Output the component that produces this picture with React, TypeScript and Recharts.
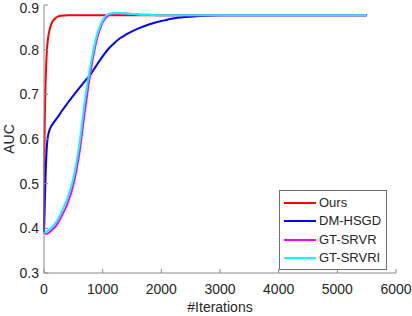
import React from 'react';
import { LineChart, Line, XAxis, YAxis, Legend, Label } from 'recharts';

// iteration grid shared by all curves
const iterations = [0, 10, 20, 30, 40, 50, 60, 80, 100, 125, 150, 200, 250, 300, 400, 500, 600, 700, 800, 900, 1000, 1100, 1200, 1300, 1400, 1500, 1600, 1800, 2000, 2200, 2400, 2600, 2800, 3000, 3500, 4000, 4500, 5000, 5500];

const ours = [0.39, 0.6, 0.69, 0.74, 0.775, 0.8, 0.815, 0.835, 0.847, 0.857, 0.864, 0.871, 0.875, 0.876, 0.877, 0.877, 0.877, 0.877, 0.877, 0.877, 0.877, 0.877, 0.877, 0.877, 0.877, 0.877, 0.877, 0.877, 0.877, 0.877, 0.877, 0.877, 0.877, 0.877, 0.877, 0.877, 0.877, 0.877, 0.877];
const dmHsgd = [0.39, 0.44, 0.49, 0.53, 0.562, 0.585, 0.6, 0.614, 0.622, 0.629, 0.634, 0.643, 0.652, 0.662, 0.68, 0.697, 0.714, 0.73, 0.746, 0.766, 0.785, 0.802, 0.815, 0.826, 0.834, 0.841, 0.847, 0.857, 0.864, 0.87, 0.873, 0.875, 0.876, 0.877, 0.877, 0.877, 0.877, 0.877, 0.877];
const gtSrvr = [0.392, 0.39, 0.389, 0.388, 0.388, 0.388, 0.388, 0.39, 0.392, 0.395, 0.398, 0.405, 0.415, 0.427, 0.455, 0.497, 0.565, 0.665, 0.755, 0.822, 0.861, 0.877, 0.881, 0.882, 0.881, 0.88, 0.879, 0.878, 0.877, 0.877, 0.877, 0.877, 0.877, 0.877, 0.877, 0.877, 0.877, 0.877, 0.877];
const gtSrvri = [0.392, 0.391, 0.391, 0.391, 0.392, 0.393, 0.394, 0.396, 0.398, 0.401, 0.405, 0.413, 0.424, 0.437, 0.468, 0.512, 0.585, 0.69, 0.77, 0.832, 0.866, 0.88, 0.882, 0.882, 0.881, 0.88, 0.879, 0.878, 0.877, 0.877, 0.877, 0.877, 0.877, 0.877, 0.877, 0.877, 0.877, 0.877, 0.877];

const xTicks = [0, 1000, 2000, 3000, 4000, 5000, 6000];
const yTicks = [0.3, 0.4, 0.5, 0.6, 0.7, 0.8, 0.9];

const series = [
  { key: 'ours', name: 'Ours', color: '#ff0000' },
  { key: 'dmHsgd', name: 'DM-HSGD', color: '#0000ff' },
  { key: 'gtSrvr', name: 'GT-SRVR', color: '#ff00ff' },
  { key: 'gtSrvri', name: 'GT-SRVRI', color: '#00ffff' },
];

const data = iterations.map((iter, i) => ({
  iter,
  ours: ours[i],
  dmHsgd: dmHsgd[i],
  gtSrvr: gtSrvr[i],
  gtSrvri: gtSrvri[i],
}));

const FONT = '"Liberation Sans", Arial, Helvetica, sans-serif';
const AXIS = '#8a8a8a';
const TEXT = '#262626';

function LegendBox() {
  return (
    <div
      style={{
        border: '1px solid #6e6e6e',
        background: '#fff',
        width: 106,
        height: 75,
        paddingTop: 3,
        boxSizing: 'content-box',
        fontFamily: FONT,
        fontSize: 13,
        color: TEXT,
      }}
    >
      {series.map((s) => (
        <div key={s.key} style={{ display: 'flex', alignItems: 'center', height: 18.3 }}>
          <div style={{ marginLeft: 4, width: 32, height: 2, background: s.color }} />
          <span style={{ marginLeft: 3, lineHeight: '18px' }}>{s.name}</span>
        </div>
      ))}
    </div>
  );
}

export default function App() {
  return (
    <div style={{ position: 'absolute', left: 0, top: 0, width: 412, height: 316, background: '#fff' }}>
      <LineChart width={412} height={316} data={data} margin={{ top: 5, right: 16, bottom: 0, left: 0 }}>
        <XAxis
          xAxisId="b"
          dataKey="iter"
          type="number"
          domain={[0, 6000]}
          ticks={xTicks}
          height={43}
          tickSize={-4}
          tickMargin={15}
          stroke={AXIS}
          tick={{ fill: TEXT, fontSize: 14, fontFamily: FONT }}
        >
          <Label value="#Iterations" position="insideBottom" offset={4} style={{ fill: TEXT, fontSize: 14, fontFamily: FONT }} />
        </XAxis>
        <XAxis
          xAxisId="t"
          orientation="top"
          dataKey="iter"
          type="number"
          domain={[0, 6000]}
          ticks={xTicks}
          height={0}
          tickSize={-4}
          stroke={AXIS}
          tickFormatter={() => ''}
        />
        <YAxis
          yAxisId="l"
          type="number"
          domain={[0.3, 0.9]}
          ticks={yTicks}
          width={44}
          tickSize={-4}
          tickMargin={9}
          stroke={AXIS}
          tickFormatter={(v: number) => v.toFixed(1)}
          tick={{ fill: TEXT, fontSize: 14, fontFamily: FONT }}
        >
          <Label value="AUC" angle={-90} position="insideLeft" offset={9} style={{ fill: TEXT, fontSize: 14, fontFamily: FONT, textAnchor: 'middle' }} />
        </YAxis>
        <YAxis
          yAxisId="r"
          orientation="right"
          type="number"
          domain={[0.3, 0.9]}
          ticks={yTicks}
          width={0}
          tickSize={-4}
          stroke={AXIS}
          tickFormatter={() => ''}
        />
        {series.map((s) => (
          <Line
            key={s.key}
            xAxisId="b"
            yAxisId="l"
            type="monotone"
            dataKey={s.key}
            name={s.name}
            stroke={s.color}
            strokeWidth={2}
            dot={false}
            isAnimationActive={false}
          />
        ))}
        <Legend
          layout="vertical"
          align="center"
          verticalAlign="middle"
          content={() => <LegendBox />}
          wrapperStyle={{ left: 279, top: 190, width: 108, height: 78 }}
        />
      </LineChart>
    </div>
  );
}
